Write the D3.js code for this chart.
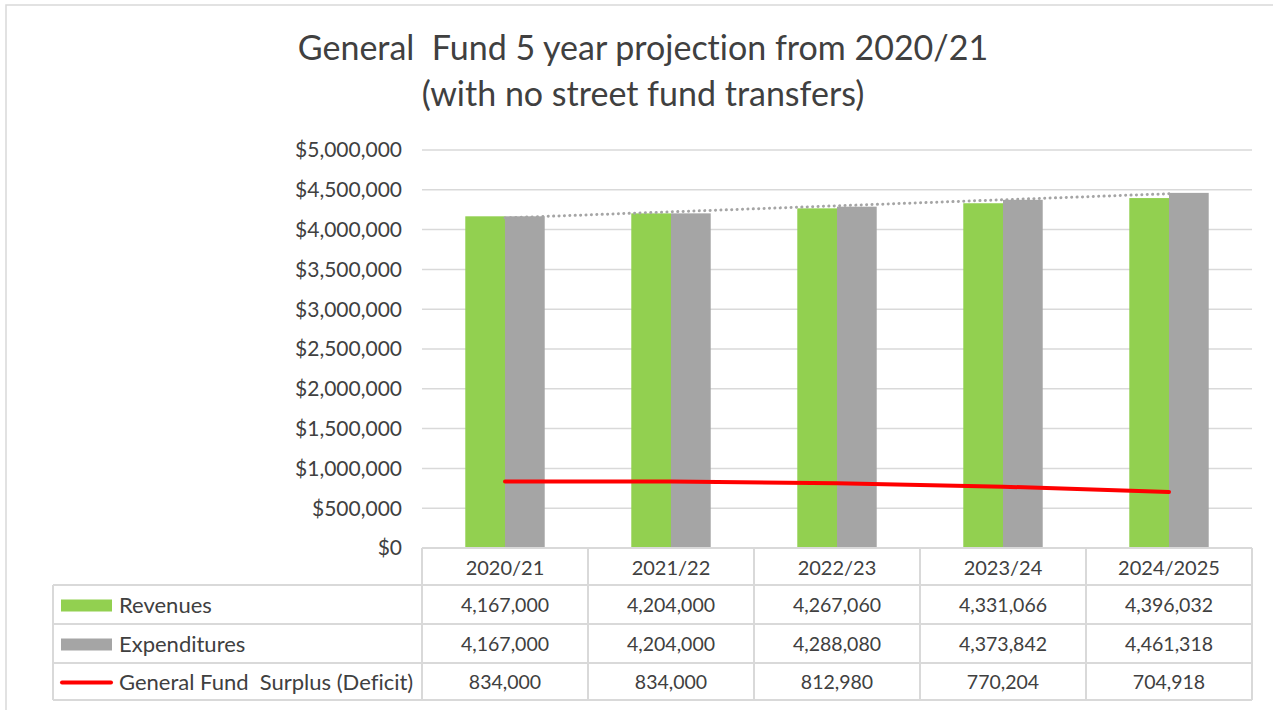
<!DOCTYPE html>
<html>
<head>
<meta charset="utf-8">
<script src="https://cdn.jsdelivr.net/npm/d3@7"></script>
<style>
  body { margin: 0; background: #fff; }
  text { font-family: Lato, "Open Sans", sans-serif; fill: #404040; white-space: pre; font-variant-ligatures: none; }
</style>
</head>
<body>
<svg id="chart" width="1273" height="710"></svg>
<script>
var categories = ["2020/21", "2021/22", "2022/23", "2023/24", "2024/2025"];
var revenues = [4167000, 4204000, 4267060, 4331066, 4396032];
var expenditures = [4167000, 4204000, 4288080, 4373842, 4461318];
var surplus = [834000, 834000, 812980, 770204, 704918];
var yTicks = [0, 500000, 1000000, 1500000, 2000000, 2500000, 3000000, 3500000, 4000000, 4500000, 5000000];
var seriesNames = ["Revenues", "Expenditures", "General Fund  Surplus (Deficit)"];

var svg = d3.select("#chart"),
  plotLeft = 422, plotRight = 1252, plotTop = 150, plotBottom = 548;

var green = "#92D050", grey = "#A5A5A5", red = "#FF0000", gridColor = "#D9D9D9";

// chart border
svg.append("rect")
  .attr("x", 6).attr("y", 5).attr("width", 1300).attr("height", 720)
  .attr("fill", "none").attr("stroke", gridColor).attr("stroke-width", 1.5);

// title
svg.append("text").attr("x", 643).attr("y", 60).attr("text-anchor", "middle")
  .style("font-size", "34px").text("General  Fund 5 year projection from 2020/21");
svg.append("text").attr("x", 643).attr("y", 106).attr("text-anchor", "middle")
  .style("font-size", "34px").text("(with no street fund transfers)");

var x0 = d3.scaleBand().domain(categories).range([plotLeft, plotRight]).padding(0);
var x1 = d3.scaleBand().domain(["rev", "exp"]).range([0, x0.bandwidth()]).paddingInner(0).paddingOuter(1.09);
var y = d3.scaleLinear().domain([0, 5000000]).range([plotBottom, plotTop]);

// gridlines
svg.append("g").selectAll("line").data(yTicks).enter().append("line")
  .attr("x1", plotLeft).attr("x2", plotRight)
  .attr("y1", function (d) { return y(d); }).attr("y2", function (d) { return y(d); })
  .attr("stroke", gridColor).attr("stroke-width", 1.5);

// y axis labels
var fmt = d3.format("$,");
svg.append("g").selectAll("text").data(yTicks).enter().append("text")
  .attr("x", 402).attr("y", function (d) { return y(d); })
  .attr("dy", "0.35em").attr("text-anchor", "end")
  .style("font-size", "21px")
  .text(function (d) { return fmt(d); });

// bars
var groups = svg.append("g").selectAll("g").data(categories).enter().append("g")
  .attr("transform", function (d) { return "translate(" + x0(d) + ",0)"; });

groups.append("rect")
  .attr("x", x1("rev")).attr("width", x1.bandwidth())
  .attr("y", function (d, i) { return y(revenues[i]); })
  .attr("height", function (d, i) { return plotBottom - y(revenues[i]); })
  .attr("fill", green);

groups.append("rect")
  .attr("x", x1("exp")).attr("width", x1.bandwidth())
  .attr("y", function (d, i) { return y(expenditures[i]); })
  .attr("height", function (d, i) { return plotBottom - y(expenditures[i]); })
  .attr("fill", grey);

function cx(d) { return x0(d) + x0.bandwidth() / 2; }

// linear trendline of expenditures (least squares, like the spreadsheet)
var mx = d3.mean(expenditures, function (d, i) { return i; });
var my = d3.mean(expenditures);
var slope = d3.sum(expenditures, function (d, i) { return (i - mx) * (d - my); }) /
  d3.sum(expenditures, function (d, i) { return (i - mx) * (i - mx); });
var trend = categories.map(function (c, i) { return my + slope * (i - mx); });

svg.append("path")
  .datum(trend)
  .attr("fill", "none").attr("stroke", "#A5A5A5").attr("stroke-width", 3)
  .attr("stroke-dasharray", "0.1 5.3").attr("stroke-linecap", "round")
  .attr("d", d3.line()
    .x(function (d, i) { return cx(categories[i]); })
    .y(function (d) { return y(d); }));

// surplus line
svg.append("path")
  .datum(surplus)
  .attr("fill", "none").attr("stroke", red).attr("stroke-width", 4).attr("stroke-linecap", "round")
  .attr("d", d3.line()
    .x(function (d, i) { return cx(categories[i]); })
    .y(function (d) { return y(d); }));

// data table
var tableLeft = 53, rowH = [548, 585, 624, 663, 700];
var tbl = svg.append("g");
tbl.append("line").attr("x1", plotLeft).attr("x2", plotRight).attr("y1", rowH[0]).attr("y2", rowH[0])
  .attr("stroke", gridColor).attr("stroke-width", 2);
rowH.slice(1).forEach(function (yy) {
  tbl.append("line").attr("x1", tableLeft).attr("x2", plotRight).attr("y1", yy).attr("y2", yy)
    .attr("stroke", gridColor).attr("stroke-width", 2);
});
tbl.append("line").attr("x1", tableLeft).attr("x2", tableLeft).attr("y1", rowH[1]).attr("y2", rowH[4])
  .attr("stroke", gridColor).attr("stroke-width", 2);
categories.concat(["end"]).forEach(function (c, i) {
  var xx = i < categories.length ? x0(c) : plotRight;
  tbl.append("line").attr("x1", xx).attr("x2", xx).attr("y1", rowH[0]).attr("y2", rowH[4])
    .attr("stroke", gridColor).attr("stroke-width", 2);
});

// header
tbl.selectAll(".hdr").data(categories).enter().append("text")
  .attr("x", cx).attr("y", (rowH[0] + rowH[1]) / 2 + 1).attr("dy", "0.35em")
  .attr("text-anchor", "middle").style("font-size", "20px")
  .text(function (d) { return d; });

var numFmt = d3.format(",");
[revenues, expenditures, surplus].forEach(function (vals, r) {
  var yy = (rowH[r + 1] + rowH[r + 2]) / 2 + 1;
  tbl.append("g").selectAll("text").data(vals).enter().append("text")
    .attr("x", function (d, i) { return cx(categories[i]); }).attr("y", yy).attr("dy", "0.35em")
    .attr("text-anchor", "middle").style("font-size", "19.5px")
    .text(function (d) { return numFmt(d); });
  tbl.append("text").attr("x", 119).attr("y", yy).attr("dy", "0.35em")
    .style("font-size", "22px").text(seriesNames[r]);
  if (r < 2) {
    tbl.append("rect").attr("x", 61).attr("y", yy - 6).attr("width", 51).attr("height", 12)
      .attr("fill", r === 0 ? green : grey);
  } else {
    tbl.append("line").attr("x1", 62).attr("x2", 111).attr("y1", yy).attr("y2", yy)
      .attr("stroke", red).attr("stroke-width", 4).attr("stroke-linecap", "round");
  }
});
</script>
</body>
</html>
